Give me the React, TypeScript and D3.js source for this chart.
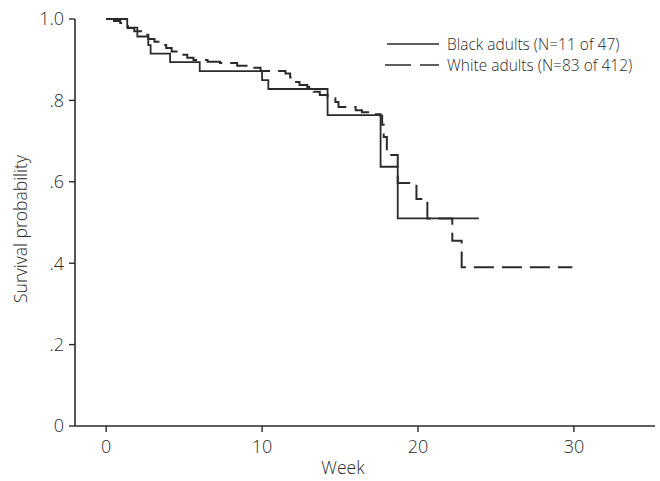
import React from "react";
import * as d3 from "d3";

// Kaplan-Meier steps (week, survival after the event)
const blackWeeks = [0, 1.35, 2.0, 2.7, 2.85, 4.1, 6.0, 10.0, 10.4, 14.2, 17.6, 18.7, 23.9];
const blackSurv = [1.0, 0.979, 0.957, 0.936, 0.915, 0.894, 0.872, 0.85, 0.828, 0.764, 0.637, 0.51, 0.51];

const whiteWeeks = [
  0, 0.5, 0.9, 1.2, 1.4, 1.8, 2.3, 2.7, 3.1, 3.5, 3.85, 4.2, 4.6, 5.2, 5.6, 6.5, 7.3, 8.4, 9.0, 9.9,
  11.5, 11.8, 12.1, 12.4, 12.9, 13.3, 13.7, 14.2, 14.7, 14.9, 16.0, 16.4, 17.0, 17.6, 17.7, 17.8,
  18.0, 18.7, 19.9, 20.6, 22.2, 22.8, 29.9,
];
const whiteSurv = [
  1.0, 0.995, 0.99, 0.985, 0.978, 0.97, 0.961, 0.951, 0.944, 0.936, 0.929, 0.92, 0.912, 0.905, 0.899,
  0.895, 0.892, 0.885, 0.88, 0.872, 0.866, 0.856, 0.845, 0.838, 0.833, 0.821, 0.813, 0.805, 0.796,
  0.784, 0.776, 0.771, 0.766, 0.762, 0.74, 0.71, 0.666, 0.597, 0.558, 0.51, 0.455, 0.39, 0.39,
];

const xTicks = [0, 10, 20, 30];
const yTicks = [0, 0.2, 0.4, 0.6, 0.8, 1.0];
const yTickLabels = ["0", ".2", ".4", ".6", ".8", "1.0"];
const legendLabels = ["Black adults (N=11 of 47)", "White adults (N=83 of 412)"];

const W = 660;
const H = 481;
const ink = "#2b2b2b";
const font = "'Open Sans', sans-serif";

export default function App() {
  const x = d3.scaleLinear().domain([-2, 35.2]).range([75, 655]);
  const y = d3.scaleLinear().domain([0, 1]).range([426, 19]);

  const line = d3
    .line<[number, number]>()
    .x((d) => x(d[0]))
    .y((d) => y(d[1]))
    .curve(d3.curveStepAfter);

  const black = line(blackWeeks.map((w, i) => [w, blackSurv[i]]));
  const white = line(whiteWeeks.map((w, i) => [w, whiteSurv[i]]));

  return (
    <svg
      width={W}
      height={H}
      style={{ position: "absolute", left: 0, top: 0 }}
      fontFamily={font}
      fontWeight={300}
    >
      <rect width={W} height={H} fill="#fff" />

      {/* axes */}
      <line x1={x(-2)} x2={x(35.2)} y1={y(0)} y2={y(0)} stroke={ink} strokeWidth={1.6} />
      <line x1={x(-2)} x2={x(-2)} y1={y(0)} y2={y(1)} stroke={ink} strokeWidth={1.6} />

      {yTicks.map((t, i) => (
        <g key={t}>
          <line x1={x(-2) - 6} x2={x(-2)} y1={y(t)} y2={y(t)} stroke={ink} strokeWidth={1.4} />
          <text
            x={x(-2) - 11}
            y={y(t)}
            dy="0.36em"
            textAnchor="end"
            fontSize={18}
            fill={ink}
          >
            {yTickLabels[i]}
          </text>
        </g>
      ))}

      {xTicks.map((t) => (
        <g key={t}>
          <line x1={x(t)} x2={x(t)} y1={y(0)} y2={y(0) + 6} stroke={ink} strokeWidth={1.4} />
          <text x={x(t)} y={y(0) + 27} textAnchor="middle" fontSize={18} fill={ink}>
            {t}
          </text>
        </g>
      ))}

      <text x={343} y={474} textAnchor="middle" fontSize={17.5} fill={ink}>
        Week
      </text>
      <text
        transform="translate(27, 229) rotate(-90)"
        textAnchor="middle"
        fontSize={17.5}
        fill={ink}
      >
        Survival probability
      </text>

      {/* curves */}
      <path d={white ?? ""} fill="none" stroke={ink} strokeWidth={2} strokeDasharray="20 8" />
      <path d={black ?? ""} fill="none" stroke={ink} strokeWidth={1.8} />

      {/* legend */}
      <line x1={387} x2={439} y1={44} y2={44} stroke={ink} strokeWidth={1.6} />
      <line x1={385} x2={439} y1={65} y2={65} stroke={ink} strokeWidth={1.6} strokeDasharray="26 9" />
      {legendLabels.map((l, i) => (
        <text key={l} x={447} y={44 + i * 21} dy="0.36em" fontSize={15.5} fill={ink}>
          {l}
        </text>
      ))}
    </svg>
  );
}
